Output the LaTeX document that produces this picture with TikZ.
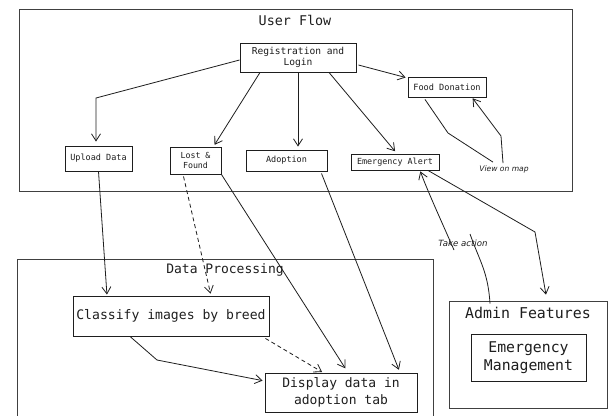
\documentclass[tikz,border=0pt]{standalone}
\usepackage{fontspec}
\setmainfont{DejaVu Sans}
\setsansfont{DejaVu Sans}
\setmonofont{DejaVu Sans Mono}
\usetikzlibrary{arrows.meta,calc}
\definecolor{ink}{HTML}{1E1E1E}
\newcommand\myfs[2]{\fontsize{#1}{#2}\selectfont}
\begin{document}
\begin{tikzpicture}[x=1pt,y=-1pt,
  box/.style={draw=ink, line width=0.9pt, inner sep=0pt, align=center, text=ink},
  frame/.style={draw=ink!85, line width=0.9pt, inner sep=0pt},
  ttl/.style={text=ink, inner sep=0pt},
  hand/.style={text=ink, inner sep=0pt, font=\sffamily\itshape},
  arr/.style={draw=ink, line width=0.8pt, -{Straight Barb[length=7pt,width=9pt]}},
  ln/.style={draw=ink, line width=0.8pt},
  dsh/.style={dashed, dash pattern=on 4pt off 3pt}]
\useasboundingbox (0,0) rectangle (613,415);
\fill[white] (0,0) rectangle (613,415);

% frames
\node[frame, minimum width=553pt, minimum height=182pt] (uf) at (295.5,100) {};
\node[ttl, font=\ttfamily\myfs{13.4}{15}] (uft) at (295,20.5) {User Flow};
\node[frame, minimum width=416pt, minimum height=166pt] (dp) at (225,342) {};
\node[ttl, font=\ttfamily\myfs{13}{15}] (dpt) at (225,270) {Data Processing};
\node[frame, minimum width=158pt, minimum height=107pt] (admin) at (528,354.5) {};
\node[ttl, font=\ttfamily\myfs{14.9}{17}] (admint) at (528,313) {Admin Features};

% boxes
\node[box, minimum width=116pt, minimum height=29pt, font=\ttfamily\myfs{9.6}{11}] (reg) at (298,57.5) {Registration and\\Login};
\node[box, minimum width=67pt, minimum height=25pt, font=\ttfamily\myfs{8.5}{10}] (upload) at (98.5,158.5) {Upload Data};
\node[box, minimum width=51pt, minimum height=27pt, font=\ttfamily\myfs{8.3}{10}] (lost) at (195.5,160.5) {Lost \&\\Found};
\node[box, minimum width=81pt, minimum height=21pt, font=\ttfamily\myfs{8.5}{10}] (adopt) at (286.5,160.5) {Adoption};
\node[box, minimum width=88pt, minimum height=16pt, font=\ttfamily\myfs{8.4}{10}] (emerg) at (395,162) {Emergency Alert};
\node[box, minimum width=78pt, minimum height=20pt, font=\ttfamily\myfs{8.6}{10}] (food) at (447,87) {Food Donation};
\node[box, minimum width=196pt, minimum height=40pt, font=\ttfamily\myfs{13.1}{15}] (classify) at (171,316) {Classify images by breed};
\node[box, minimum width=152pt, minimum height=39pt, font=\ttfamily\myfs{13}{17}] (display) at (341,392.5) {Display data in\\adoption tab};
\node[box, minimum width=115pt, minimum height=47pt, font=\ttfamily\myfs{14.8}{17.7}] (emgmt) at (528.5,357.5) {Emergency\\Management};

% labels
\node[hand, font=\sffamily\itshape\myfs{7.6}{9}] (view) at (504,169) {View on map};
\node[hand, font=\sffamily\itshape\myfs{8.6}{10}] (take) at (463,243) {Take action};

% user flow connectors
\draw[arr, shorten >=4pt] ([yshift=-2.5pt]reg.west) -- (96,98) -- ([xshift=-2.5pt]upload.north);
\draw[arr, shorten >=2pt] ([xshift=-38pt]reg.south) -- ([xshift=-8pt]lost.north east);
\draw[arr, shorten >=3pt] (reg.south) -- ([xshift=11.5pt]adopt.north);
\draw[arr, shorten >=3pt] ([xshift=31pt]reg.south) -- ([xshift=2pt]emerg.north);
\draw[arr, shorten >=2pt] ([yshift=-7.5pt,xshift=2pt]reg.east) -- ([yshift=9pt]food.west);
\draw[ln] ([xshift=-22pt,yshift=-2pt]food.south) -- (448,133) -- ([xshift=-11pt,yshift=3pt]view.north);
\draw[arr, shorten >=1pt] ([xshift=-1pt,yshift=2pt]view.north) -- (501,136) -- ([xshift=25pt]food.south);

% to data processing
\draw[arr, shorten >=1pt] (upload.south) -- ([xshift=-64pt]classify.north);
\draw[arr, dsh, shorten >=2pt] ([xshift=-12pt,yshift=-2pt]lost.south) -- ([xshift=40pt]classify.north);
\draw[arr, shorten >=5pt] (lost.south east) -- ([xshift=7pt]display.north);
\draw[arr, shorten >=3pt] ([xshift=35pt,yshift=-2pt]adopt.south) -- ([xshift=59pt]display.north);
\draw[arr, shorten >=2pt] ([xshift=-41pt]classify.south) -- (157,360) -- ([yshift=11.5pt]display.west);
\draw[arr, dsh, shorten >=1pt] ([xshift=-4pt,yshift=-2pt]classify.south east) -- ([xshift=-18pt]display.north);

% admin connectors
\draw[arr, shorten >=6pt] ([xshift=33pt]emerg.south) -- (535,232) -- ([xshift=19pt]admin.north);
\draw[ln] ([xshift=-38pt,yshift=-3pt]admin.north) .. controls (488,272) and (480,262) .. ([xshift=7pt,yshift=9pt]take.center);
\draw[arr, shorten >=1pt] ([xshift=-9pt,yshift=-7pt]take.center) .. controls (440,218) and (428,192) .. ([xshift=25pt]emerg.south);
\end{tikzpicture}
\end{document}
